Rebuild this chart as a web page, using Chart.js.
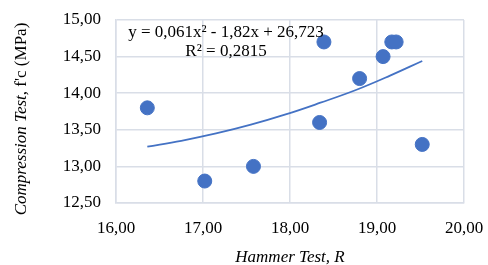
<!DOCTYPE html>
<html>
<head>
<meta charset="utf-8">
<script src="https://cdn.jsdelivr.net/npm/chart.js@4"></script>
<style>
  html, body { margin: 0; padding: 0; background: #fff; }
  #wrap { width: 488px; height: 265px; }
</style>
</head>
<body>
<div id="wrap"><canvas id="chart" width="488" height="265"></canvas></div>
<script>
const hammerR = [16.36, 17.02, 17.58, 18.34, 18.39, 18.80, 19.07, 19.17, 19.22, 19.52];
const compression = [13.80, 12.80, 13.00, 13.60, 14.70, 14.20, 14.50, 14.70, 14.70, 13.30];

// trend curve points
const trendX = [16.36, 16.75, 17.15, 17.55, 17.95, 18.35, 18.75, 19.15, 19.52];
const trendY = [13.27, 13.35, 13.45, 13.57, 13.71, 13.87, 14.04, 14.24, 14.44];

const eqLine1 = "y = 0,061x² - 1,82x + 26,723";
const eqLine2 = "R² = 0,2815";

const BLUE = "#4472c4";
const GRID = "#d9dee7";
const FONT = "'Liberation Serif', 'Times New Roman', serif";

const fmt = v => v.toFixed(2).replace(".", ",");

// titles and equation drawn by hand (mixed italic/upright)
const textPlugin = {
    id: "texts",
    afterDraw(chart) {
        const ctx = chart.ctx;
        const area = chart.chartArea;
        ctx.save();
        ctx.fillStyle = "#000";
        ctx.textBaseline = "alphabetic";

        // equation
        ctx.font = `17px ${FONT}`;
        ctx.textAlign = "center";
        ctx.fillText(eqLine1, 226, 37);
        ctx.fillText(eqLine2, 226, 56);

        // x title
        ctx.font = `italic 17px ${FONT}`;
        ctx.fillText("Hammer Test, R", (area.left + area.right) / 2, 262);

        // y title
        ctx.translate(26, 119);
        ctx.rotate(-Math.PI / 2);
        const part1 = "Compression Test,";
        const part2 = " f'c (MPa)";
        ctx.font = `italic 17px ${FONT}`;
        const w1 = ctx.measureText(part1).width;
        ctx.font = `17px ${FONT}`;
        const w2 = ctx.measureText(part2).width;
        let x0 = -(w1 + w2) / 2;
        ctx.textAlign = "left";
        ctx.font = `italic 17px ${FONT}`;
        ctx.fillText(part1, x0, 0);
        ctx.font = `17px ${FONT}`;
        ctx.fillText(part2, x0 + w1, 0);
        ctx.restore();
    }
};

new Chart(document.getElementById("chart"), {
    type: "scatter",
    data: {
        datasets: [
            {
                label: "Data",
                data: hammerR.map((x, i) => ({ x: x, y: compression[i] })),
                backgroundColor: BLUE,
                borderColor: BLUE,
                pointRadius: 7,
                pointHoverRadius: 7,
                order: 1
            },
            {
                label: "Trend",
                type: "line",
                data: trendX.map((x, i) => ({ x: x, y: trendY[i] })),
                borderColor: BLUE,
                borderWidth: 1.8,
                pointRadius: 0,
                fill: false,
                tension: 0.4,
                order: 2
            }
        ]
    },
    options: {
        responsive: false,
        animation: false,
        layout: { padding: { top: 20, right: 24, left: 0, bottom: 0 } },
        plugins: { legend: { display: false }, tooltip: { enabled: false } },
        scales: {
            x: {
                type: "linear",
                min: 16, max: 20,
                ticks: { stepSize: 1, callback: v => fmt(v), color: "#000", font: { family: FONT, size: 17 }, padding: 15 },
                grid: { color: GRID, lineWidth: 1.5, drawTicks: false },
                border: { color: GRID, width: 1.5 },
                afterFit: s => { s.height = 62; s.paddingLeft = 0; s.paddingRight = 0; }
            },
            y: {
                min: 12.5, max: 15,
                ticks: { stepSize: 0.5, callback: v => fmt(v), color: "#000", font: { family: FONT, size: 17 }, padding: 15 },
                grid: { color: GRID, lineWidth: 1.5, drawTicks: false },
                border: { color: GRID, width: 1.5 },
                afterFit: s => { s.width = 116; s.paddingTop = 0; s.paddingBottom = 0; }
            }
        }
    },
    plugins: [textPlugin]
});
</script>
</body>
</html>
